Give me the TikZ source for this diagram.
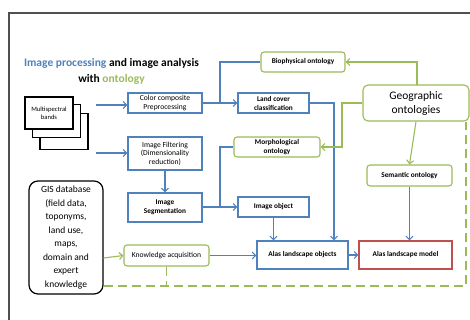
\documentclass[tikz,border=0pt]{standalone}
\usepackage{fontspec}
\setmainfont{Carlito}
\usetikzlibrary{arrows.meta,calc}
\definecolor{oblue}{HTML}{4F81BD}
\definecolor{ogreen}{HTML}{9BBB59}
\definecolor{ored}{HTML}{C0504D}
\definecolor{frame}{HTML}{505050}
\tikzset{
  bx/.style={draw=#1, line width=1.1pt, fill=white, inner sep=1pt, align=center, font=\fontsize{7.6}{8.6}\selectfont},
  bbx/.style={bx=#1, font=\bfseries\fontsize{7.3}{9}\selectfont},
  rbx/.style={bx=#1, rounded corners=3pt},
  conn/.style={draw=oblue, line width=1.1pt},
  gconn/.style={draw=ogreen, line width=1.1pt},
  arr/.style={-{Straight Barb[length=3.5pt,width=7pt,line width=1.1pt]}},
  gdash/.style={draw=ogreen, line width=1.3pt, dash pattern=on 9pt off 5pt},
}
\begin{document}
\begin{tikzpicture}[x=1pt,y=-1pt]
\useasboundingbox (0,0) rectangle (470,320);
% frame
\draw[frame, line width=1.3pt] (9,320) -- (9,13) -- (470,13);
% title
\node (t1) at (111.5,63) {\bfseries\fontsize{11.5}{13}\selectfont\textcolor{oblue}{Image processing} and image analysis};
\node (t2) at (111.5,79) {\bfseries\fontsize{11.5}{13}\selectfont with \textcolor{ogreen}{ontology}};
% multispectral bands
\node[draw=black, line width=1.1pt, fill=white, minimum width=48pt, minimum height=36pt] (b3) at (64,131.5) {};
\node[draw=black, line width=1.1pt, fill=white, minimum width=48pt, minimum height=33pt] (b2) at (56.5,121) {};
\node[draw=black, line width=1.1pt, fill=white, minimum width=48pt, minimum height=32pt, align=center, font=\fontsize{6.6}{8.5}\selectfont] (b1) at (49,113) {Multispectral\\bands};
\coordinate (s1) at (96,105);
\coordinate (s2) at (96,153);
% boxes
\node[bx=oblue, minimum width=74pt, minimum height=20pt] (color) at (165,103) {Color composite\\Preprocessing};
\node[bx=oblue, minimum width=74pt, minimum height=33pt] (filt) at (165,153.5) {Image Filtering\\(Dimensionality\\reduction)};
\node[bbx=oblue, minimum width=74pt, minimum height=29pt] (seg) at (165,207.5) {Image\\Segmentation};
\node[bbx=oblue, minimum width=71pt, minimum height=20pt] (land) at (273.5,103) {Land cover\\classification};
\node[bbx=ogreen, rounded corners=3pt, minimum width=84pt, minimum height=20pt] (bio) at (303,62) {Biophysical ontology};
\node[rbx=ogreen, rounded corners=5pt, minimum width=106pt, minimum height=36pt, font=\fontsize{11.5}{14}\selectfont] (geo) at (416,103) {Geographic\\ontologies};
\node[bbx=ogreen, rounded corners=3pt, minimum width=86pt, minimum height=20pt] (morph) at (277,147) {Morphological\\ontology};
\node[bbx=oblue, minimum width=71pt, minimum height=20pt] (obj) at (273.5,207) {Image object};
\node[bbx=ogreen, rounded corners=3pt, minimum width=85pt, minimum height=21pt] (sem) at (409.5,175.5) {Semantic ontology};
\node[bbx=oblue, minimum width=91pt, minimum height=28pt] (alobj) at (302.5,255) {Alas landscape objects};
\node[bbx=ored, minimum width=93pt, minimum height=28pt] (almod) at (405.5,255) {Alas landscape model};
\node[rbx=ogreen, minimum width=85pt, minimum height=21pt] (know) at (166.5,255.5) {Knowledge acquisition};
\node[draw=black, line width=1.2pt, rounded corners=9pt, fill=white, minimum width=74pt, minimum height=113pt, align=center, font=\fontsize{9.5}{13.5}\selectfont] (gis) at (66,237.5) {GIS database\\(field data,\\toponyms,\\land use,\\maps,\\domain and\\expert\\knowledge};
% blue connectors
\draw[conn, arr] (s1) -- (color.west |- s1);
\draw[conn, arr] (s2) -- (filt.west |- s2);
\draw[conn, arr] (color.east) -- (land.west);
\coordinate (j1) at (220,103);
\draw[conn] (bio.west) -| (j1);
\draw[conn, arr] (filt.south) -- (seg.north);
\draw[conn, arr] (seg.east |- obj.west) -- (obj.west);
\coordinate (j2) at (220,207);
\draw[conn] (morph.west) -| (j2);
\coordinate (lc) at (334,103);
\draw[conn, arr] (land.east) -- (lc) -- (lc |- alobj.north);
\draw[conn, arr] (obj.south) -- (obj.south |- alobj.north);
\draw[conn, arr] (know.east) -- (alobj.west |- know.east);
\draw[conn, arr] (alobj.east) -- (almod.west);
\draw[conn, arr] (sem.south) -- (sem.south |- almod.north);
% green connectors
\coordinate (gt) at (417,85);
\draw[gconn, arr] (gt) |- (bio.east);
\coordinate (gl) at (342,103);
\draw[gconn, arr] (geo.west) -- (gl) |- (morph.east);
\draw[gconn, arr] (geo.south) -- (sem.north);
\draw[gconn, arr] (gis.east |- 0,258) -- (know.west);
% dashed
\coordinate (d1) at (466,286);
\draw[gdash] (gis.east |- d1) -- (d1) -- (d1 |- geo.south);
\draw[gdash] (know.south) -- (know.south |- d1);
\end{tikzpicture}
\end{document}
